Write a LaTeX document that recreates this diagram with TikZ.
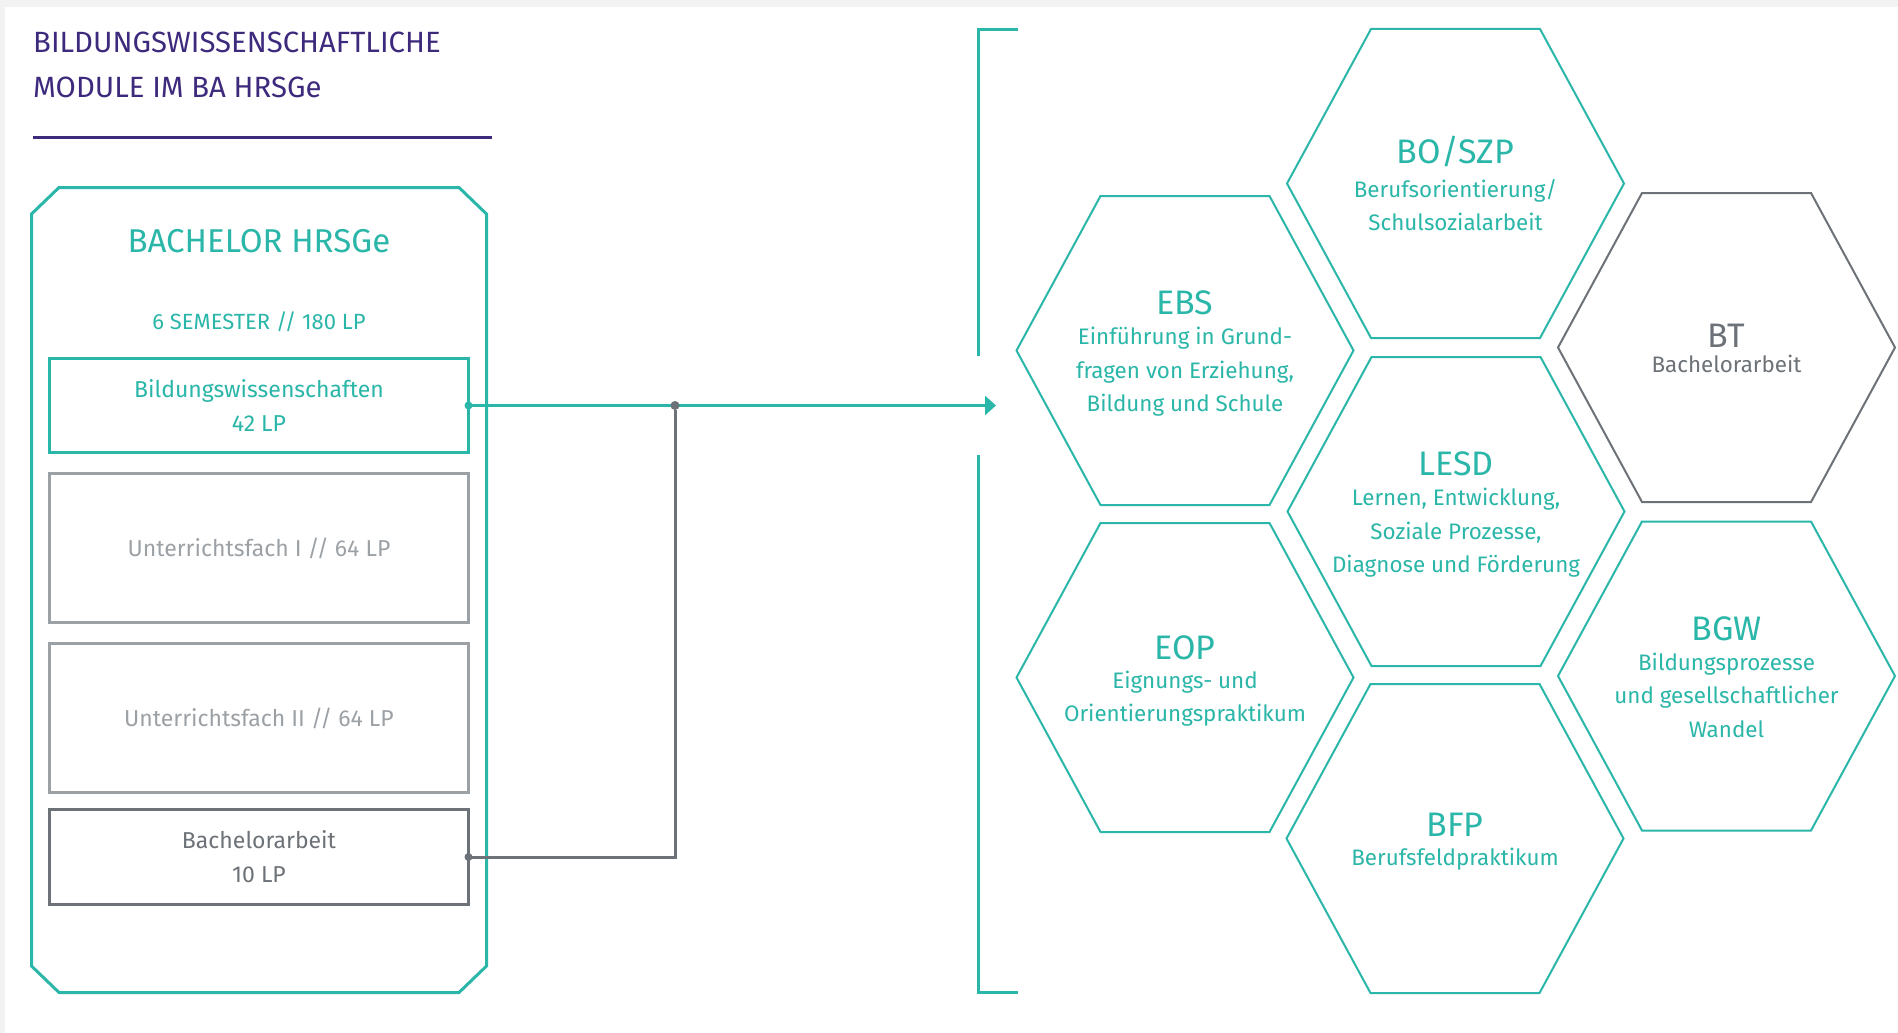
\documentclass[tikz,border=0pt]{standalone}
\usepackage{fontspec}
\setmainfont{Fira Sans}
\usetikzlibrary{arrows.meta,positioning}
\definecolor{bteal}{RGB}{42,182,168}
\definecolor{bpurple}{RGB}{62,42,125}
\definecolor{bgraydark}{RGB}{108,114,119}
\definecolor{bgraylight}{RGB}{156,161,166}
\definecolor{bgback}{RGB}{242,242,242}
\newcommand{\hextitle}{\fontsize{34}{40}\selectfont}

\begin{document}
\begin{tikzpicture}[x=1pt,y=-1pt,
  every node/.style={inner sep=0pt},
  frame/.style={draw=bteal,line width=3pt},
  modbox/.style={draw,line width=3pt,outer sep=0pt,minimum width=419pt,align=center,
    font=\fontsize{23}{34}\selectfont},
  hexline/.style={line width=2pt,line join=miter},
  hextext/.style={align=center,text=bteal,font=\fontsize{22.4}{33.3}\selectfont},
  dot/.style={circle,minimum size=9pt,inner sep=0pt}]
%% background
\useasboundingbox (0,0) rectangle (1898,1033);
\fill[bgback] (0,0) rectangle (1898,1033);
\fill[white] (5,7) rectangle (1898,1033);
%% heading
\node[anchor=north west,align=left,text=bpurple,font=\fontsize{29.3}{45}\selectfont] (title) at (33,32)
  {BILDUNGSWISSENSCHAFTLICHE\\MODULE IM BA HRSGe};
\draw[bpurple,line width=3pt] (33,137) -- (492,137);
%% bachelor
\draw[frame] (31.5,214) -- (59,187.5) -- (459,187.5) -- (486.5,214) -- (486.5,966)
  -- (459,992.5) -- (59,992.5) -- (31.5,966) -- cycle;
\node[anchor=base,text=bteal,font=\fontsize{33}{40}\selectfont] (ba) at (259,252) {BACHELOR HRSGe};
\node[anchor=base,text=bteal,font=\fontsize{22}{30}\selectfont] (sem) at (259,329) {6 SEMESTER // 180 LP};
\node[modbox,draw=bteal,text=bteal,minimum height=94pt] (bw) at (259,405.5) {Bildungswissenschaften\\42 LP};
\node[modbox,draw=bgraylight,text=bgraylight,minimum height=149pt,below=21pt of bw] (uf1) {Unterrichtsfach I // 64 LP};
\node[modbox,draw=bgraylight,text=bgraylight,minimum height=149pt,below=21pt of uf1] (uf2) {Unterrichtsfach II // 64 LP};
\node[modbox,draw=bgraydark,text=bgraydark,minimum height=95pt,below=17pt of uf2] (bt) {Bachelorarbeit\\10 LP};
%% connectors
\coordinate (tip) at (996,405.5);
\draw[bteal,line width=3pt,-{Triangle[length=11pt,width=19pt]}] (bw.east) -- (tip);
\fill[bteal] (bw.east) circle (4pt);
\node[dot,fill=bgraydark] (jn) at (675,405.5) {};
\draw[bgraydark,line width=3pt] (bt.east) -| (jn);
\fill[bgraydark] (bt.east) circle (4pt);
%% bracket
\draw[frame] (1018,30) -- (978,30) -- (978,356);
\draw[frame] (978,455) -- (978,992) -- (1018,992);
%% hexagons
\foreach \cx/\cy/\hc in {1185/350.5/bteal,1185/677.5/bteal,1455.5/183.5/bteal,1456/511.5/bteal,
  1455/838.5/bteal,1726.5/347.5/bgraydark,1726.5/676/bteal}
  \draw[hexline,draw=\hc] (\cx-168.5,\cy) -- (\cx-84.5,\cy-154.5) -- (\cx+84.5,\cy-154.5)
    -- (\cx+168.5,\cy) -- (\cx+84.5,\cy+154.5) -- (\cx-84.5,\cy+154.5) -- cycle;
\node[hextext] (boszp) at (1455.5,183.5) {{\hextitle BO/SZP}\\[1pt]Berufsorientierung/\\Schulsozialarbeit};
\node[hextext] (ebs) at (1185,353.5) {{\hextitle EBS}\\[-3pt]Einführung in Grund-\\fragen von Erziehung,\\Bildung und Schule};
\node[hextext,text=bgraydark] (bthex) at (1726.5,348.5) {{\hextitle BT}\\[-8pt]Bachelorarbeit};
\node[hextext] (lesd) at (1456,514.5) {{\hextitle LESD}\\[-3pt]Lernen, Entwicklung,\\Soziale Prozesse,\\Diagnose und Förderung};
\node[hextext] (eop) at (1185,681) {{\hextitle EOP}\\[-4pt]Eignungs- und\\Orientierungspraktikum};
\node[hextext] (bgw) at (1726.5,677) {{\hextitle BGW}\\[-3pt]Bildungsprozesse\\und gesellschaftlicher\\Wandel};
\node[hextext] (bfp) at (1455,842) {{\hextitle BFP}\\[-4pt]Berufsfeldpraktikum};
\end{tikzpicture}
\end{document}
